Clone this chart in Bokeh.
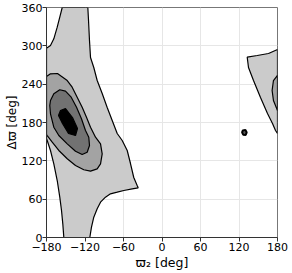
from bokeh.plotting import figure
from bokeh.models import Range1d, FixedTicker
from bokeh.embed import file_html
from bokeh.resources import INLINE

# ---- data (degrees) ----
xticks = [-180, -120, -60, 0, 60, 120, 180]
xtick_labels = ["\u2212180", "\u2212120", "\u221260", "0", "60", "120", "180"]
yticks = [0, 60, 120, 180, 240, 300, 360]
ytick_labels = ["0", "60", "120", "180", "240", "300", "360"]

# outermost contour level (lightest), left island
lvl1_left_x = [-155.5, -115.6, -114.5, -113.0, -111.4, -106.3, -101.0, -93.2, -85.4, -77.6,
               -69.8, -62.0, -54.2, -49.1, -44.0, -38.7, -37.1, -46.4, -59.5, -69.8,
               -80.3, -88.1, -95.8, -101.0, -106.3, -109.9, -112.5, -153.0, -154.6, -156.6,
               -159.3, -163.3, -168.6, -173.8, -178.9, -180.0, -180.0, -173.8, -168.6, -163.3,
               -159.3]
lvl1_left_y = [360.0, 360.0, 339.6, 308.3, 281.7, 266.1, 245.7, 225.4, 203.5, 183.1,
               162.8, 151.8, 136.2, 115.8, 93.9, 81.4, 77.8, 76.2, 73.6, 70.9,
               68.4, 63.1, 55.3, 44.9, 31.8, 16.1, 0.0, 0.0, 21.4, 42.3,
               63.1, 89.2, 115.4, 136.2, 151.8, 155.0, 296.3, 300.5, 311.0, 329.2,
               344.8]

# outermost level, right island (wraps at +180)
lvl1_right_x = [132.8, 148.4, 166.0, 180.0, 180.0, 176.9, 172.2, 164.4, 153.5, 142.6, 134.8]
lvl1_right_y = [282.2, 284.9, 288.0, 294.3, 162.8, 167.5, 178.4, 194.1, 219.1, 245.7, 266.1]

# second level, left
lvl2_left_x = [-180.0, -173.8, -162.9, -147.7, -140.0, -132.2, -124.4, -117.7, -111.4, -103.6,
               -95.8, -93.2, -95.8, -101.0, -111.4, -121.9, -134.8, -147.7, -160.8, -171.1,
               -178.9, -180.0]
lvl2_left_y = [252.0, 256.2, 256.7, 245.7, 235.3, 219.6, 204.0, 188.3, 172.6, 157.0,
               146.6, 131.0, 115.3, 107.5, 103.8, 106.0, 112.7, 123.2, 136.2, 149.2,
               159.6, 161.2]

# second level, right (clipped at +180)
lvl2_right_x = [180.0, 173.7, 171.6, 173.7, 180.0]
lvl2_right_y = [253.6, 245.7, 230.1, 214.4, 198.8]

# third level
lvl3_x = [-173.8, -168.6, -159.3, -150.4, -141.5, -133.2, -125.5, -119.2, -114.1, -113.0,
          -116.6, -124.4, -134.8, -147.7, -160.8, -168.6, -173.8, -174.9]
lvl3_y = [214.4, 224.9, 231.2, 229.0, 219.6, 204.0, 185.8, 167.5, 157.0, 144.0,
          133.5, 129.9, 135.1, 146.6, 159.6, 172.6, 193.6, 206.6]

# innermost level
lvl4_x = [-158.2, -150.4, -139.5, -131.7, -134.8, -145.7, -155.1, -161.3]
lvl4_y = [198.8, 201.9, 187.8, 170.6, 159.6, 162.8, 178.4, 190.9]

# tiny isolated contour
dot_x = [126.0, 130.0, 132.0, 130.5, 126.5, 124.8]
dot_y = [167.5, 168.5, 164.5, 160.5, 161.0, 164.5]

level_colors = ["#cbcbcb", "#a3a3a3", "#727272", "#000000"]

p = figure(frame_width=231, frame_height=230, output_backend="svg", toolbar_location=None,
           x_range=Range1d(-180, 180), y_range=Range1d(0, 360),
           min_border_left=46, min_border_right=14, min_border_top=7, min_border_bottom=36)

p.patches([lvl1_left_x, lvl1_right_x], [lvl1_left_y, lvl1_right_y],
          fill_color=level_colors[0], line_color="black", line_width=1.2)
p.patches([lvl2_left_x, lvl2_right_x], [lvl2_left_y, lvl2_right_y],
          fill_color=level_colors[1], line_color="black", line_width=1.2)
p.patch(lvl3_x, lvl3_y, fill_color=level_colors[2], line_color="black", line_width=1.2)
p.patch(lvl4_x, lvl4_y, fill_color=level_colors[3], line_color="black", line_width=1.2)
p.patch(dot_x, dot_y, fill_color="#555555", line_color="black", line_width=2)

p.xaxis.ticker = FixedTicker(ticks=xticks)
p.yaxis.ticker = FixedTicker(ticks=yticks)
p.xaxis.major_label_overrides = dict(zip(xticks, xtick_labels))
p.yaxis.major_label_overrides = dict(zip(yticks, ytick_labels))
p.xaxis.axis_label = "\u03d6\u2082 [deg]"
p.yaxis.axis_label = "\u0394\u03d6 [deg]"

for ax in (p.xaxis, p.yaxis):
    ax.major_label_text_font = "DejaVu Sans"
    ax.major_label_text_font_size = "11px"
    ax.major_label_text_color = "black"
    ax.axis_label_text_font = "DejaVu Sans"
    ax.axis_label_text_font_size = "12.5px"
    ax.axis_label_text_font_style = "normal"
    ax.axis_label_text_color = "black"
    ax.minor_tick_line_color = None
    ax.major_tick_out = 4
    ax.major_tick_in = 0
    ax.major_label_standoff = 1
    ax.axis_label_standoff = 1
    ax.axis_line_color = "#333333"
    ax.major_tick_line_color = "#333333"

p.yaxis.axis_label_standoff = 0
p.yaxis.major_label_standoff = 0
p.yaxis.axis_label_text_font_size = "12px"

p.grid.grid_line_color = "#e6e6e6"
p.outline_line_color = "#777777"
p.background_fill_color = "white"
p.border_fill_color = "white"

open("out.html", "w").write(file_html(p, INLINE))
